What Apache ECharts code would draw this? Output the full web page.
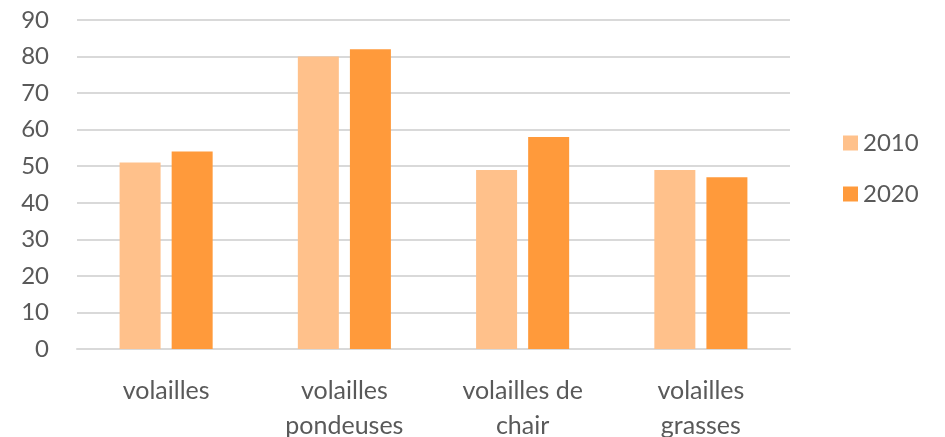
<!DOCTYPE html>
<html>
<head>
<meta charset="utf-8">
<script src="https://cdn.jsdelivr.net/npm/echarts@6/dist/echarts.min.js"></script>
<style>
  html, body { margin: 0; padding: 0; background: #ffffff; }
  #chart { width: 945px; height: 437px; }
</style>
</head>
<body>
<div id="chart"></div>
<script>
var categories = ['volailles', 'volailles\npondeuses', 'volailles de\nchair', 'volailles\ngrasses'];
var seriesNames = ['2010', '2020'];
var values2010 = [51, 80, 49, 49];
var values2020 = [54, 82, 58, 47];

var chart = echarts.init(document.getElementById('chart'));

var textColor = '#595959';
var fontFamily = 'Lato, "Open Sans", sans-serif';

chart.setOption({
  backgroundColor: '#ffffff',
  color: ['#FFC18B', '#FF9A3B'],
  textStyle: { fontFamily: fontFamily },
  grid: {
    left: 77,
    right: 155,
    top: 20,
    bottom: 88,
    outerBoundsMode: 'none'
  },
  legend: {
    data: seriesNames,
    orient: 'vertical',
    left: 838,
    top: 126,
    itemWidth: 15,
    itemHeight: 15,
    itemGap: 27,
    icon: 'rect',
    textStyle: { color: textColor, fontSize: 24, fontFamily: fontFamily }
  },
  xAxis: {
    type: 'category',
    data: categories,
    axisLine: { lineStyle: { color: '#D9D9D9', width: 2 } },
    axisTick: { show: false },
    axisLabel: {
      color: textColor,
      fontSize: 25,
      lineHeight: 35,
      margin: 24,
      interval: 0
    }
  },
  yAxis: {
    type: 'value',
    min: 0,
    max: 90,
    interval: 10,
    axisLine: { show: false },
    axisTick: { show: false },
    splitLine: { lineStyle: { color: '#D9D9D9', width: 2 } },
    axisLabel: { color: textColor, fontSize: 24, margin: 28 }
  },
  series: [
    {
      name: seriesNames[0],
      type: 'bar',
      data: values2010,
      barWidth: 41,
      barGap: '27%'
    },
    {
      name: seriesNames[1],
      type: 'bar',
      data: values2020,
      barWidth: 41,
      barGap: '27%'
    }
  ]
});
</script>
</body>
</html>
